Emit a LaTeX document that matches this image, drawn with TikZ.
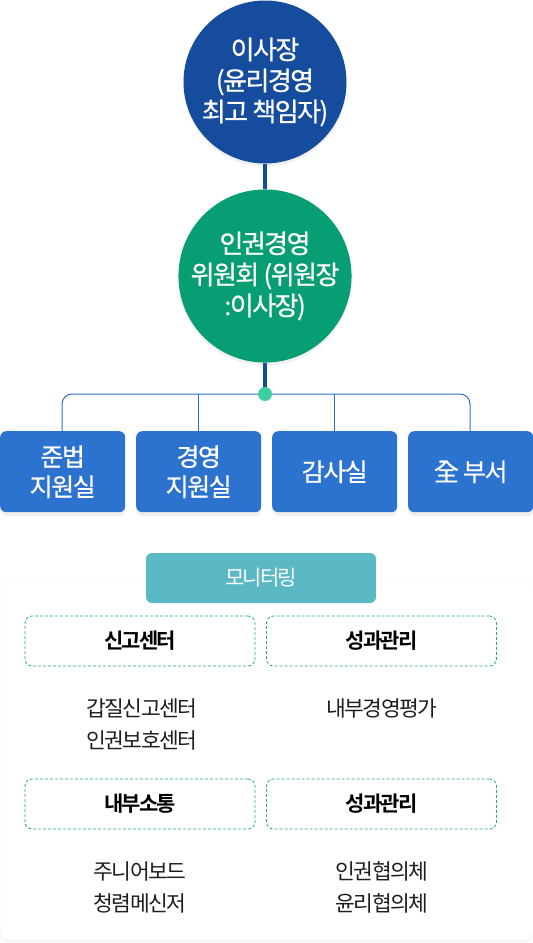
\documentclass[tikz,border=0pt]{standalone}
\usepackage{fontspec}
\setmainfont{Noto Sans CJK KR}
\newfontfamily\kbold{Noto Sans CJK KR Bold}[LetterSpace=-9]
\newfontfamily\kmed{Noto Sans CJK KR}[FakeBold=0.6,LetterSpace=-6]
\newfontfamily\kreg{Noto Sans CJK KR}[LetterSpace=-7]
\usetikzlibrary{shadows,positioning}
\definecolor{cblue}{HTML}{164C9E}
\definecolor{cgreen}{HTML}{079E74}
\definecolor{cmint}{HTML}{3DCFA2}
\definecolor{cbox}{HTML}{2C72CF}
\definecolor{cline}{HTML}{2C6FCC}
\definecolor{cteal}{HTML}{5BB9C6}
\definecolor{cdash}{HTML}{27AA80}
\definecolor{ctext}{HTML}{1E1E1E}
\tikzset{
  bigcircle/.style={circle, minimum size=163pt, inner sep=0pt, text=white, align=center,
    font=\kmed\fontsize{26}{31}\selectfont, drop shadow={opacity=0.12, shadow xshift=0pt, shadow yshift=-3pt}},
  deptbox/.style={rectangle, rounded corners=6pt, fill=cbox, minimum width=125pt, minimum height=81pt,
    inner sep=0pt, text=white, align=center, font=\kmed\fontsize{25}{30}\selectfont,
    drop shadow={opacity=0.12, shadow xshift=0pt, shadow yshift=-4pt}},
  thickline/.style={line width=4pt, draw=cblue},
  branch/.style={line width=1pt, draw=cline, rounded corners=10pt},
  dashbox/.style={rectangle, rounded corners=7pt, draw=cdash, dash pattern=on 3pt off 2pt,
    line width=0.8pt, minimum width=230pt, minimum height=50pt, inner sep=0pt,
    font=\kbold\fontsize{21}{22}\selectfont, text=black},
  item/.style={align=center, text=ctext, font=\kreg\fontsize{21.5}{32}\selectfont, inner sep=0pt},
}
\begin{document}
\begin{tikzpicture}[x=1pt,y=-1pt]
\useasboundingbox (0,0) rectangle (533,943);
\coordinate (dot) at (265,394);
\node[bigcircle, fill=cblue] (top) at (265,82) {이사장\\(윤리경영\\최고 책임자)};
\node[bigcircle, fill=cgreen] (mid) at (265,276) {인권경영\\위원회 (위원장\\:이사장)};
\draw[thickline] (top.south) -- (mid.north);
\draw[thickline] (mid.south) -- (dot);
\node[deptbox, anchor=north west] (d1) at (0,431) {준법\\지원실};
\node[deptbox, anchor=north west] (d2) at (136,431) {경영\\지원실};
\node[deptbox, anchor=north west] (d3) at (272,431) {감사실};
\node[deptbox, anchor=north west] (d4) at (408,431) {全 부서};
\coordinate (b1) at (62,431);
\coordinate (b2) at (198,431);
\coordinate (b3) at (334,431);
\coordinate (b4) at (470,431);
\draw[branch] (b1) -- (62,394) -- (dot);
\draw[branch] (dot) -- (470,394) -- (b4);
\draw[branch, rounded corners=0pt] (b2) -- (198,394);
\draw[branch, rounded corners=0pt] (b3) -- (334,394);
\node[circle, fill=cmint, minimum size=14pt, inner sep=0pt] (dotn) at (dot) {};
\node[rectangle, rounded corners=8pt, fill=white, draw=black!4, minimum width=533pt, minimum height=361pt,
  anchor=north west, inner sep=0pt, drop shadow={opacity=0.08, shadow xshift=0pt, shadow yshift=-2pt}] (panel) at (0,579) {};
\node[rectangle, rounded corners=6pt, fill=cteal, minimum width=230pt, minimum height=50pt, inner sep=0pt,
  text=white, font=\kbold\mdseries\fontsize{21}{22}\selectfont] (mon) at (261,578) {\kreg\addfontfeature{LetterSpace=-9}모니터링};
\node[dashbox] (s1) at (140,641) {신고센터};
\node[dashbox] (s2) at (381.5,641) {성과관리};
\node[dashbox] (s3) at (140,804) {내부소통};
\node[dashbox] (s4) at (381.5,804) {성과관리};
\node[item] (i1) at (142,724) {갑질신고센터\\인권보호센터};
\node[item] (i2) at (382,708) {내부경영평가};
\node[item] (i3) at (140,887) {주니어보드\\청렴메신저};
\node[item] (i4) at (382,887) {인권협의체\\윤리협의체};
\end{tikzpicture}
\end{document}
